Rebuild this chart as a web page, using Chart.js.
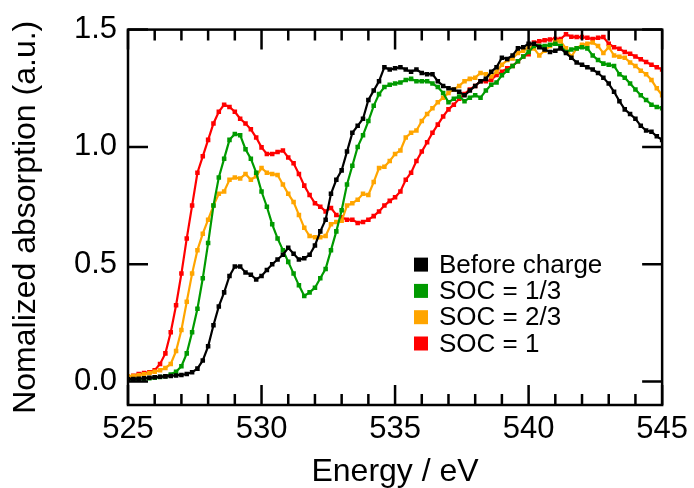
<!DOCTYPE html>
<html>
<head>
<meta charset="utf-8">
<title>O K-edge XAS</title>
<script src="https://cdn.jsdelivr.net/npm/chart.js@4.4.0/dist/chart.umd.min.js"></script>
<style>
  html, body { margin: 0; padding: 0; background: #fff; }
  canvas { display: block; }
</style>
</head>
<body>
<canvas id="xasChart" width="694" height="488"></canvas>
<script>
// photon energy (eV), one point every 0.2 eV
const energy = [
  525.0, 525.2, 525.4, 525.6, 525.8, 526.0, 526.2, 526.4, 526.6, 526.8,
  527.0, 527.2, 527.4, 527.6, 527.8, 528.0, 528.2, 528.4, 528.6, 528.8,
  529.0, 529.2, 529.4, 529.6, 529.8, 530.0, 530.2, 530.4, 530.6, 530.8,
  531.0, 531.2, 531.4, 531.6, 531.8, 532.0, 532.2, 532.4, 532.6, 532.8,
  533.0, 533.2, 533.4, 533.6, 533.8, 534.0, 534.2, 534.4, 534.6, 534.8,
  535.0, 535.2, 535.4, 535.6, 535.8, 536.0, 536.2, 536.4, 536.6, 536.8,
  537.0, 537.2, 537.4, 537.6, 537.8, 538.0, 538.2, 538.4, 538.6, 538.8,
  539.0, 539.2, 539.4, 539.6, 539.8, 540.0, 540.2, 540.4, 540.6, 540.8,
  541.0, 541.2, 541.4, 541.6, 541.8, 542.0, 542.2, 542.4, 542.6, 542.8,
  543.0, 543.2, 543.4, 543.6, 543.8, 544.0, 544.2, 544.4, 544.6, 544.8,
  545.0
];

const beforeCharge = [
  0.010, 0.011, 0.012, 0.014, 0.016, 0.018, 0.020, 0.022, 0.024, 0.026,
  0.028, 0.032, 0.040, 0.055, 0.090, 0.150, 0.24, 0.32, 0.38, 0.45,
  0.49, 0.49, 0.465, 0.455, 0.435, 0.45, 0.475, 0.50, 0.52, 0.54,
  0.57, 0.545, 0.52, 0.525, 0.54, 0.58, 0.64, 0.69, 0.80, 0.86,
  0.90, 0.98, 1.06, 1.09, 1.12, 1.20, 1.24, 1.28, 1.34, 1.33,
  1.335, 1.34, 1.33, 1.32, 1.33, 1.315, 1.31, 1.31, 1.28, 1.26,
  1.25, 1.245, 1.235, 1.22, 1.24, 1.26, 1.28, 1.29, 1.32, 1.34,
  1.38, 1.375, 1.39, 1.42, 1.425, 1.44, 1.44, 1.425, 1.415, 1.405,
  1.41, 1.42, 1.40, 1.38, 1.36, 1.35, 1.34, 1.33, 1.315, 1.295,
  1.27, 1.235, 1.195, 1.16, 1.14, 1.12, 1.09, 1.07, 1.065, 1.045,
  1.03
];

const soc13 = [
  0.008, 0.009, 0.010, 0.012, 0.014, 0.016, 0.019, 0.023, 0.030, 0.042,
  0.065, 0.12, 0.21, 0.31, 0.44, 0.59, 0.75, 0.87, 0.95, 1.03,
  1.055, 1.05, 0.99, 0.95, 0.89, 0.81, 0.745, 0.67, 0.61, 0.56,
  0.51, 0.46, 0.41, 0.365, 0.38, 0.40, 0.44, 0.48, 0.56, 0.64,
  0.73, 0.84, 0.92, 1.00, 1.05, 1.11, 1.175, 1.225, 1.255, 1.265,
  1.27, 1.275, 1.285, 1.29, 1.28, 1.28, 1.28, 1.27, 1.255, 1.23,
  1.19, 1.205, 1.215, 1.195, 1.21, 1.22, 1.21, 1.24, 1.265, 1.275,
  1.305, 1.325, 1.345, 1.365, 1.385, 1.405, 1.43, 1.43, 1.43, 1.435,
  1.44, 1.43, 1.405, 1.415, 1.42, 1.425, 1.42, 1.39, 1.37, 1.355,
  1.35, 1.345, 1.31, 1.295, 1.27, 1.245, 1.22, 1.20, 1.18, 1.17,
  1.165
];

const soc23 = [
  0.022, 0.024, 0.027, 0.031, 0.036, 0.042, 0.048, 0.058, 0.075, 0.13,
  0.22, 0.34, 0.46, 0.56, 0.63, 0.69, 0.75, 0.80, 0.81, 0.86,
  0.87, 0.865, 0.885, 0.86, 0.875, 0.91, 0.89, 0.885, 0.88, 0.84,
  0.80, 0.765, 0.71, 0.655, 0.62, 0.615, 0.615, 0.62, 0.67, 0.68,
  0.685, 0.75, 0.76, 0.775, 0.80, 0.795, 0.85, 0.91, 0.915, 0.94,
  0.97, 0.985, 1.04, 1.06, 1.07, 1.11, 1.14, 1.165, 1.19, 1.21,
  1.23, 1.245, 1.26, 1.28, 1.29, 1.295, 1.315, 1.31, 1.30, 1.32,
  1.35, 1.37, 1.377, 1.40, 1.41, 1.425, 1.42, 1.39, 1.41, 1.43,
  1.45, 1.45, 1.42, 1.385, 1.42, 1.435, 1.44, 1.445, 1.43, 1.40,
  1.425, 1.39, 1.384, 1.38, 1.36, 1.345, 1.325, 1.31, 1.285, 1.25,
  1.22
];

const soc1 = [
  0.018, 0.025, 0.032, 0.036, 0.040, 0.048, 0.075, 0.12, 0.21, 0.325,
  0.46, 0.61, 0.75, 0.89, 0.96, 1.03, 1.10, 1.15, 1.18, 1.17,
  1.15, 1.12, 1.10, 1.075, 1.04, 0.998, 0.97, 0.97, 0.978, 0.985,
  0.955, 0.93, 0.885, 0.835, 0.795, 0.76, 0.745, 0.725, 0.74, 0.71,
  0.70, 0.69, 0.69, 0.676, 0.68, 0.69, 0.705, 0.725, 0.75, 0.77,
  0.785, 0.81, 0.86, 0.89, 0.94, 0.98, 1.02, 1.06, 1.095, 1.13,
  1.16, 1.18, 1.205, 1.225, 1.245, 1.26, 1.28, 1.28, 1.285, 1.307,
  1.32, 1.335, 1.345, 1.365, 1.385, 1.395, 1.445, 1.45, 1.455, 1.458,
  1.46, 1.46, 1.48, 1.47, 1.468, 1.468, 1.465, 1.46, 1.465, 1.468,
  1.44, 1.425, 1.418, 1.405, 1.397, 1.385, 1.374, 1.362, 1.35, 1.34,
  1.33
];

const seriesLabels = ['Before charge', 'SOC = 1/3', 'SOC = 2/3', 'SOC = 1'];
const seriesColors = ['#000000', '#009a00', '#ffa500', '#ff0000'];

const xMajor = [525, 530, 535, 540, 545];
const xMinor = [526, 527, 528, 529, 531, 532, 533, 534, 536, 537, 538, 539, 541, 542, 543, 544];
const yMajor = [0, 0.5, 1.0, 1.5];

const FONT = '"Liberation Sans", Arial, Helvetica, sans-serif';

function toPoints(values) {
  return energy.map((e, i) => ({ x: e, y: values[i] }));
}

// frame with inward ticks on all four sides
const frameTicks = {
  id: 'frameTicks',
  afterDatasetsDraw(chart) {
    const { ctx, chartArea: a, scales: { x, y } } = chart;
    ctx.save();
    ctx.strokeStyle = '#000';
    ctx.lineWidth = 2.5;
    ctx.beginPath();
    xMajor.forEach(v => {
      const px = x.getPixelForValue(v);
      ctx.moveTo(px, a.bottom); ctx.lineTo(px, a.bottom - 20);
      ctx.moveTo(px, a.top); ctx.lineTo(px, a.top + 20);
    });
    xMinor.forEach(v => {
      const px = x.getPixelForValue(v);
      ctx.moveTo(px, a.bottom); ctx.lineTo(px, a.bottom - 11);
      ctx.moveTo(px, a.top); ctx.lineTo(px, a.top + 11);
    });
    yMajor.forEach(v => {
      const py = y.getPixelForValue(v);
      ctx.moveTo(a.left, py); ctx.lineTo(a.left + 20, py);
      ctx.moveTo(a.right, py); ctx.lineTo(a.right - 20, py);
    });
    ctx.stroke();
    ctx.strokeRect(a.left, a.top, a.right - a.left, a.bottom - a.top);
    ctx.restore();
  }
};

// legend sitting inside the plot, lower right
const insideLegend = {
  id: 'insideLegend',
  afterDraw(chart) {
    const { ctx, chartArea: a } = chart;
    const left = a.left + 286;
    const top = a.top + 235;
    ctx.save();
    ctx.font = '26px ' + FONT;
    ctx.textBaseline = 'middle';
    ctx.textAlign = 'left';
    chart.data.datasets.forEach((ds, i) => {
      const cy = top + i * 26.3;
      ctx.fillStyle = ds.borderColor;
      ctx.fillRect(left, cy - 7, 14, 14);
      ctx.fillStyle = '#000';
      ctx.fillText(ds.label, left + 25, cy + 1);
    });
    ctx.restore();
  }
};

const datasets = [beforeCharge, soc13, soc23, soc1].map((values, i) => ({
  label: seriesLabels[i],
  data: toPoints(values),
  borderColor: seriesColors[i],
  backgroundColor: seriesColors[i],
  borderWidth: 2.2,
  pointStyle: 'rect',
  pointRadius: 3.2,
  pointBorderWidth: 0,
  tension: 0
}));

new Chart(document.getElementById('xasChart'), {
  type: 'line',
  data: { datasets },
  options: {
    responsive: false,
    animation: false,
    layout: { padding: { top: 23, right: 28, left: 0, bottom: 0 } },
    plugins: {
      legend: { display: false },
      tooltip: { enabled: false }
    },
    scales: {
      x: {
        type: 'linear',
        min: 525,
        max: 545,
        afterBuildTicks: s => { s.ticks = xMajor.map(v => ({ value: v })); },
        afterFit: s => { s.height = 83; },
        grid: { display: false, drawTicks: false },
        border: { display: false },
        ticks: {
          color: '#000',
          font: { family: FONT, size: 31 },
          padding: 6,
          maxRotation: 0,
          autoSkip: false
        },
        title: {
          display: true,
          text: 'Energy / eV',
          color: '#000',
          font: { family: FONT, size: 32 },
          padding: { top: 0, bottom: -3 }
        }
      },
      y: {
        type: 'linear',
        min: -0.1,
        max: 1.5,
        afterBuildTicks: s => { s.ticks = yMajor.map(v => ({ value: v })); },
        afterFit: s => { s.width = 128; },
        grid: { display: false, drawTicks: false },
        border: { display: false },
        ticks: {
          color: '#000',
          font: { family: FONT, size: 31 },
          padding: 11,
          callback: v => Number(v).toFixed(1)
        },
        title: {
          display: true,
          text: 'Nomalized absorption (a.u.)',
          color: '#000',
          font: { family: FONT, size: 32 },
          padding: { top: 7, bottom: 0 }
        }
      }
    }
  },
  plugins: [frameTicks, insideLegend]
});
</script>
</body>
</html>
